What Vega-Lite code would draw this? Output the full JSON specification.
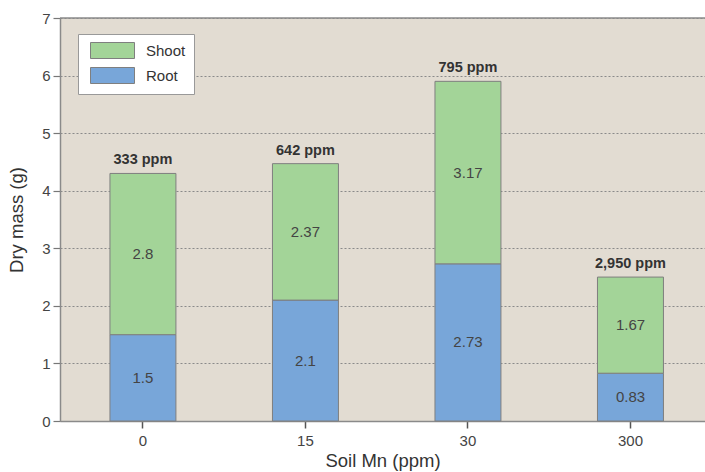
{
  "$schema": "https://vega.github.io/schema/vega-lite/v6.json",
  "autosize": "none",
  "width": 645,
  "height": 403,
  "padding": {"left": 60, "top": 18, "right": 0, "bottom": 51},
  "background": "white",
  "config": {
    "font": "Liberation Sans",
    "view": {"fill": "#e2dcd2", "stroke": null}
  },
  "datasets": {
    "parts": [
      {"mn": "0", "part": "Root", "value": 1.5},
      {"mn": "0", "part": "Shoot", "value": 2.8},
      {"mn": "15", "part": "Root", "value": 2.1},
      {"mn": "15", "part": "Shoot", "value": 2.37},
      {"mn": "30", "part": "Root", "value": 2.73},
      {"mn": "30", "part": "Shoot", "value": 3.17},
      {"mn": "300", "part": "Root", "value": 0.83},
      {"mn": "300", "part": "Shoot", "value": 1.67}
    ],
    "totals": [
      {"mn": "0", "total": 4.3, "label": "333 ppm"},
      {"mn": "15", "total": 4.47, "label": "642 ppm"},
      {"mn": "30", "total": 5.9, "label": "795 ppm"},
      {"mn": "300", "total": 2.5, "label": "2,950 ppm"}
    ],
    "top": [{"y": 7}]
  },
  "layer": [
    {
      "data": {"name": "parts"},
      "mark": {"type": "bar", "stroke": "#7f7f7f", "strokeWidth": 1},
      "encoding": {
        "x": {
          "field": "mn",
          "type": "nominal",
          "sort": ["0", "15", "30", "300"],
          "scale": {"paddingInner": 0.594, "paddingOuter": 0.2815, "align": 0.546},
          "axis": {
            "title": "Soil Mn (ppm)",
            "labelAngle": 0,
            "labelFontSize": 15,
            "labelColor": "#444444",
            "labelPadding": 5,
            "tickColor": "#555555",
            "tickSize": 7,
            "tickWidth": 1.5,
            "domainColor": "#8a8a8a",
            "domainWidth": 1.5,
            "titleFontSize": 18.5,
            "titleFontWeight": "normal",
            "titleColor": "#333333",
            "titlePadding": 3
          }
        },
        "y": {
          "field": "value",
          "type": "quantitative",
          "stack": "zero",
          "scale": {"domain": [0, 7], "nice": false},
          "axis": {
            "title": "Dry mass (g)",
            "values": [0, 1, 2, 3, 4, 5, 6, 7],
            "format": "d",
            "grid": true,
            "gridDash": [2, 2],
            "gridColor": "#8a8a8a",
            "gridWidth": 1,
            "labelFontSize": 15,
            "labelColor": "#444444",
            "labelPadding": 3,
            "tickColor": "#777777",
            "tickSize": 7,
            "tickWidth": 1.2,
            "domainColor": "#8a8a8a",
            "domainWidth": 1.5,
            "titleFontSize": 18.5,
            "titleFontWeight": "normal",
            "titleColor": "#333333",
            "titlePadding": 15
          }
        },
        "order": {"field": "part", "sort": "ascending"},
        "color": {
          "field": "part",
          "type": "nominal",
          "scale": {"domain": ["Shoot", "Root"], "range": ["#a3d498", "#78a6d9"]},
          "legend": {
            "orient": "none",
            "legendX": 18,
            "legendY": 16,
            "title": null,
            "fillColor": "white",
            "strokeColor": "#999999",
            "padding": 8,
            "symbolType": "M-2.75,-1L2.75,-1L2.75,1L-2.75,1Z",
            "symbolSize": 256,
            "symbolOffset": 18,
            "symbolStrokeColor": "#7f7f7f",
            "symbolStrokeWidth": 1,
            "symbolOpacity": 1,
            "labelFontSize": 15,
            "labelColor": "#333333",
            "labelOffset": 25,
            "labelExpr": "datum.label + '\u00a0\u00a0\u00a0\u00a0'",
            "rowPadding": 4
          }
        }
      }
    },
    {
      "data": {"name": "parts"},
      "transform": [
        {"stack": "value", "groupby": ["mn"], "sort": [{"field": "part"}], "as": ["v0", "v1"]},
        {"fold": ["v0", "v1"], "as": ["end", "pos"]},
        {"aggregate": [{"op": "mean", "field": "pos", "as": "mid"}], "groupby": ["mn", "part", "value"]}
      ],
      "mark": {"type": "text", "fontSize": 15, "color": "#444444", "baseline": "middle"},
      "encoding": {
        "x": {"field": "mn", "type": "nominal", "sort": ["0", "15", "30", "300"]},
        "y": {"field": "mid", "type": "quantitative"},
        "text": {"field": "value", "type": "quantitative"}
      }
    },
    {
      "data": {"name": "totals"},
      "mark": {"type": "text", "fontSize": 14.5, "fontWeight": "bold", "color": "#333333", "baseline": "bottom", "dy": -6},
      "encoding": {
        "x": {"field": "mn", "type": "nominal", "sort": ["0", "15", "30", "300"]},
        "y": {"field": "total", "type": "quantitative"},
        "text": {"field": "label", "type": "nominal"}
      }
    },
    {
      "data": {"name": "top"},
      "mark": {"type": "rule", "color": "#8a8a8a", "strokeWidth": 1.5},
      "encoding": {
        "y": {"field": "y", "type": "quantitative"}
      }
    }
  ]
}
